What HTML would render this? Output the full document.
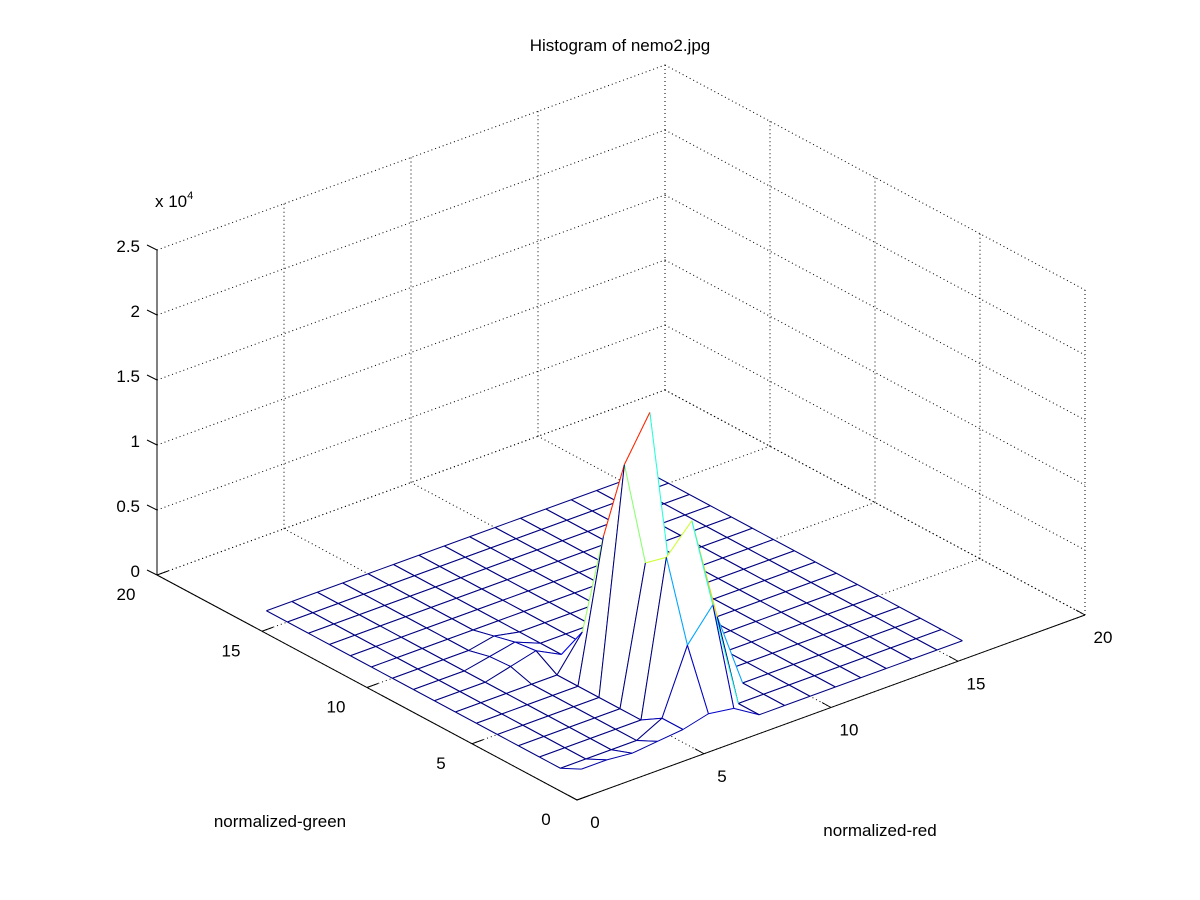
<!DOCTYPE html>
<html><head><meta charset="utf-8"><style>
body{margin:0;background:#fff;}
svg{display:block;font-family:"Liberation Sans",Arial,sans-serif;}
</style></head><body>
<svg id="chart" width="1200" height="900" viewBox="0 0 1200 900">
<rect width="1200" height="900" fill="#fff"/>
<g id="grid"></g>
<g id="axes"></g>
<g id="mesh"></g>
<text x="620" y="51" font-size="17" text-anchor="middle">Histogram of nemo2.jpg</text>
<text x="155" y="207" font-size="17">x 10<tspan font-size="11" dy="-8">4</tspan></text>
<text x="880" y="836" font-size="17" text-anchor="middle">normalized-red</text>
<text x="280" y="827" font-size="17" text-anchor="middle">normalized-green</text>
</svg>
<script>
const xTicks=[0,5,10,15,20];
const yTicks=[0,5,10,15,20];
const zTicks=[0,0.5,1,1.5,2,2.5];
const zTickLabels=["0","0.5","1","1.5","2","2.5"];
// nonzero histogram bins (x index, y index, count in 1e4)
const peakX=[6,6,6,6,7,7,7,8,7,6,6,7,8,8,1,2,3,4,5,6,7,5,5,4,4,5,7,5];
const peakY=[6,5,4,3,5,4,3,3,2,2,7,6,5,4,1,1,1,1,1,1,1,9,8,9,8,2,7,10];
const peakZ=[1.08,1.72,1.05,1.18,2.05,0.85,1.39,0.58,0.83,0.59,0.26,0.5,0.2,0.3,0.08,0.08,0.06,0.08,0.1,0.15,0.12,0.08,0.1,0.04,0.05,0.1,0.05,0.04];
const N=16;
const NS='http://www.w3.org/2000/svg';
function P(x,y,z){return [577+25.4*x-21*y, 800-9.25*x-11.25*y-130*z];}
function mk(tag,attrs,parent){const e=document.createElementNS(NS,tag);for(const k in attrs)e.setAttribute(k,attrs[k]);parent.appendChild(e);return e;}
const grid=document.getElementById('grid'),axes=document.getElementById('axes'),mesh=document.getElementById('mesh');
function line(a,b,parent,dot,name){const l=mk('line',{x1:a[0],y1:a[1],x2:b[0],y2:b[1],stroke:'#000','stroke-width':1,'stroke-dasharray':dot?'1,3':'none'},parent);

return l;}
const zMax=zTicks[zTicks.length-1];
xTicks.forEach(t=>{line(P(t,0,0),P(t,20,0),grid,true,'floor-grid-x');line(P(t,20,0),P(t,20,zMax),grid,true,'wall-grid-x');});
yTicks.forEach(t=>{line(P(0,t,0),P(20,t,0),grid,true,'floor-grid-y');line(P(20,t,0),P(20,t,zMax),grid,true,'wall-grid-y');});
zTicks.forEach(t=>{line(P(0,20,t),P(20,20,t),grid,true,'wall-grid-z');line(P(20,20,t),P(20,0,t),grid,true,'wall-grid-z');});
line(P(0,0,0),P(20,0,0),axes,false,'x-axis');
line(P(0,0,0),P(0,20,0),axes,false,'y-axis');
line(P(0,20,0),P(0,20,zMax),axes,false,'z-axis');
xTicks.forEach(t=>{const a=P(t,0,0);line(a,[a[0]-9,a[1]-5],axes,false,'x-tick');
const tx=mk('text',{x:a[0]+18,y:a[1]+28,'font-size':17,'text-anchor':'middle'},axes);tx.textContent=t;

});
yTicks.forEach(t=>{const a=P(0,t,0);line(a,[a[0]+11,a[1]-4],axes,false,'y-tick');
const tx=mk('text',{x:a[0]-31,y:a[1]+25,'font-size':17,'text-anchor':'middle'},axes);tx.textContent=t;

});
zTicks.forEach((t,k)=>{const a=P(0,20,t);line(a,[a[0]-10,a[1]-5],axes,false,'z-tick');
const tx=mk('text',{x:a[0]-17,y:a[1]+2,'font-size':17,'text-anchor':'end'},axes);tx.textContent=zTickLabels[k];

});
const Z=[];for(let j=0;j<=N;j++){Z.push(new Array(N+1).fill(0));}
peakX.forEach((x,k)=>{Z[peakY[k]][x]=peakZ[k];});
const cmax=Math.max(...peakZ);
function jet(v){v=Math.max(0,Math.min(1,v));const f=c=>Math.round(255*Math.max(0,Math.min(1,1.5-Math.abs(4*v-c))));return `rgb(${f(3)},${f(2)},${f(1)})`;}
const cells=[];
for(let j=1;j<N;j++)for(let i=1;i<N;i++)cells.push([i,j]);
cells.sort((a,b)=>(9.25*(a[0]+.5)+11.25*(a[1]+.5))<(9.25*(b[0]+.5)+11.25*(b[1]+.5))?1:-1);
cells.forEach(([i,j])=>{
 const v=[[i,j],[i+1,j],[i+1,j+1],[i,j+1]];
 const pts=v.map(([x,y])=>P(x,y,Z[y][x]));
 const poly=mk('polygon',{points:pts.map(p=>p.join(',')).join(' '),fill:'#fff',stroke:'none'},mesh);
 
 
 for(let k=0;k<4;k++){
  const a=v[k],b=v[(k+1)%4];
  const lo=(a[0]+a[1]<=b[0]+b[1])?a:b;
  const c=jet(Z[lo[1]][lo[0]]/cmax);
  const pa=pts[k],pb=pts[(k+1)%4];
  const l=mk('line',{x1:pa[0],y1:pa[1],x2:pb[0],y2:pb[1],stroke:c,'stroke-width':1},mesh);
  
  
 }
});
</script>
</body></html>
